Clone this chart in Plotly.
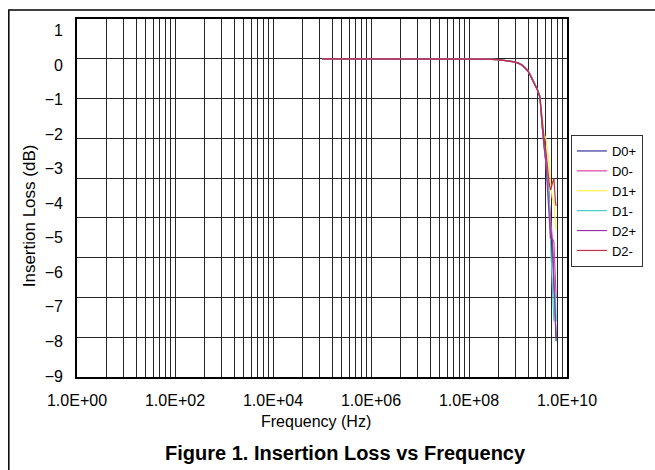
import plotly.graph_objects as go

# ---------------- data ----------------
freq_hz = [1e5, 1e6, 1e7, 1e8, 2e8, 4e8, 6e8, 8e8, 1.0e9, 1.2e9, 1.4e9, 1.6e9, 1.8e9,
           2.0e9, 2.2e9, 2.5e9, 2.8e9, 3.1e9, 3.4e9, 3.7e9, 4.0e9, 4.3e9, 4.6e9,
           5.0e9, 5.4e9, 5.8e9, 6.0e9]

d0p = [0, 0, 0, 0, -0.01, -0.02, -0.04, -0.07, -0.10, -0.15, -0.22, -0.30, -0.41, -0.52, -0.61, -0.77, -0.94,
       -1.7, -2.1, -2.5, -3.0, -3.4, -4.3, -4.6, -5.8, -6.5, -7.1]
d0m = [0, 0, 0, 0, -0.01, -0.02, -0.05, -0.08, -0.11, -0.16, -0.24, -0.31, -0.43, -0.54, -0.63, -0.79, -0.97,
       -1.7, -2.2, -2.6, -3.1, -3.6, -3.9, -4.5, -4.6, -5.4, -6.0]
d1p = [0, 0, 0, 0, -0.01, -0.02, -0.04, -0.07, -0.10, -0.15, -0.23, -0.30, -0.42, -0.53, -0.62, -0.78, -0.93,
       -1.5, -1.9, -2.0, -2.3, -2.6, -3.1, -3.5, -3.6, -4.1, -4.3]
d1m = [0, 0, 0, 0, -0.01, -0.02, -0.04, -0.07, -0.10, -0.15, -0.23, -0.31, -0.42, -0.53, -0.62, -0.78, -0.95,
       -1.6, -2.2, -2.4, -3.0, -3.5, -4.6, -5.6, -6.6, -5.9, -6.6]
d2p = [0, 0, 0, 0, -0.01, -0.02, -0.05, -0.08, -0.11, -0.16, -0.24, -0.32, -0.44, -0.55, -0.64, -0.80, -0.98,
       -1.7, -2.2, -2.6, -3.2, -3.8, -4.5, -4.55, -5.6, -6.5, -7.0]
d2m = [0, 0, 0, 0, -0.01, -0.02, -0.04, -0.07, -0.10, -0.15, -0.23, -0.30, -0.42, -0.53, -0.62, -0.78, -0.95,
       -1.6, -2.0, -2.3, -2.8, -3.1, -3.3, -3.1, -3.0, -3.6, -3.7]

series_names = ["D0+", "D0-", "D1+", "D1-", "D2+", "D2-"]
series_values = [d0p, d0m, d1p, d1m, d2p, d2m]
series_colors = ["#333399", "#e040a8", "#ffee44", "#44cccc", "#9933aa", "#c03048"]

x_tick_vals = [1e0, 1e2, 1e4, 1e6, 1e8, 1e10]
x_tick_text = ["1.0E+00", "1.0E+02", "1.0E+04", "1.0E+06", "1.0E+08", "1.0E+10"]
y_label_vals = [1, 0, -1, -2, -3, -4, -5, -6, -7, -8, -9]
y_label_text = ["1" if v == 1 else ("0" if v == 0 else "\u2212" + str(-v)) for v in y_label_vals]

# minor grid lines as drawn in the original (log pattern repeated every two decades)
minor_grid = [m * m * 10 ** (2 * k) for k in range(5) for m in range(2, 10)]

FONT = "Liberation Sans, Arial, Helvetica, sans-serif"
W, H = 655, 470
L, R, T, B = 77, 75, 19, 93
PW, PH = W - L - R, H - T - B
GRID = "#262626"

def px(xp):
    return (xp - L) / PW

def py(yp):
    return (H - B - yp) / PH

fig = go.Figure()
for name, vals, col in zip(series_names, series_values, series_colors):
    fig.add_trace(go.Scatter(x=freq_hz, y=vals, mode="lines", name=name,
                             line=dict(color=col, width=1.2)))
# carrier for the label axis (no visible marks)
fig.add_trace(go.Scatter(x=[], y=[], yaxis="y2", showlegend=False, hoverinfo="skip"))

fig.update_layout(
    width=W, height=H,
    margin=dict(l=L, r=R, t=T, b=B),
    paper_bgcolor="white", plot_bgcolor="white",
    font=dict(family=FONT, size=15, color="black"),
    showlegend=True,
    legend=dict(x=px(584), y=py(135), xanchor="left", yanchor="top",
                bordercolor="#333333", borderwidth=1, bgcolor="white",
                font=dict(family=FONT, size=13), tracegroupgap=0),
    xaxis=dict(type="log", range=[0, 10], tickvals=x_tick_vals, ticktext=x_tick_text,
               showgrid=True, gridcolor=GRID, gridwidth=1,
               minor=dict(tickvals=minor_grid, showgrid=True, gridcolor=GRID, gridwidth=1, ticks=""),
               showline=True, linecolor="black", linewidth=1.5, mirror=True,
               ticks="", ticklabelstandoff=8, zeroline=False,
               tickfont=dict(family=FONT, size=16)),
    yaxis=dict(range=[-8, 1], dtick=1, showgrid=True, gridcolor=GRID, gridwidth=1,
               showticklabels=False, ticks="", zeroline=False,
               showline=True, linecolor="black", linewidth=1.5, mirror=True),
    yaxis2=dict(overlaying="y", anchor="x", side="left", range=[-9.03, 1.33],
                tickmode="array", tickvals=y_label_vals, ticktext=y_label_text, showgrid=False,
                zeroline=False, showline=False, ticks="", ticklabelstandoff=13,
                showticklabels=True, tickfont=dict(family=FONT, size=16)),
)

fig.add_annotation(text="Frequency (Hz)", xref="paper", yref="paper", x=px(322), y=py(421),
                   showarrow=False, font=dict(family=FONT, size=16), xanchor="center", yanchor="middle")
fig.add_annotation(text="Insertion Loss (dB)", xref="paper", yref="paper", x=px(28), y=py(216),
                   textangle=-90, showarrow=False, font=dict(family=FONT, size=17),
                   xanchor="center", yanchor="middle")
fig.add_annotation(text="<b>Figure 1. Insertion Loss vs Frequency</b>", xref="paper", yref="paper",
                   x=px(353), y=py(453), showarrow=False, font=dict(family=FONT, size=20),
                   xanchor="center", yanchor="middle")

# outer figure frame (left and top edges visible)
fig.add_shape(type="rect", xref="paper", yref="paper", x0=px(7), x1=px(720), y0=py(540), y1=py(10),
              line=dict(color="black", width=1.5), fillcolor="rgba(0,0,0,0)", layer="below")

fig.write_html("out.html", config={"displayModeBar": False},
               post_script="document.body.style.margin='0';document.body.style.overflow='hidden';")
